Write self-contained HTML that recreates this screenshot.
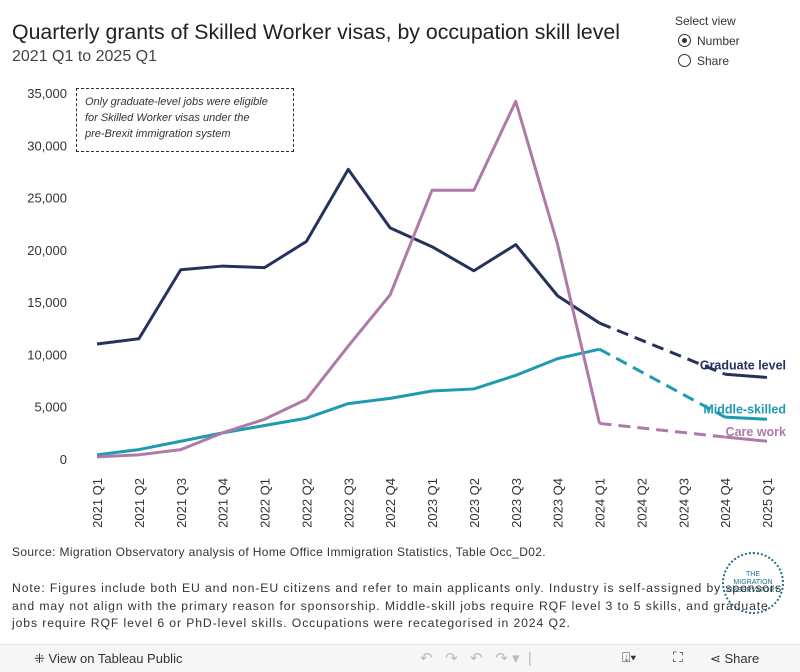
<!DOCTYPE html>
<html><head><meta charset="utf-8"><style>
body{margin:0;width:800px;height:671px;background:#fff;font-family:"Liberation Sans",sans-serif;overflow:hidden;position:relative;color:#222}
.t{position:absolute;white-space:nowrap}
</style></head><body>
<div style="position:absolute;left:722px;top:552px;width:62px;height:62px;border-radius:50%;border:2px dotted #1f6e8c;box-sizing:border-box;background:#fff;color:#1f6e8c;font-size:7px;text-align:center;line-height:8px;display:flex;align-items:center;justify-content:center">THE<br>MIGRATION<br>OBSERVATORY</div>
<div class="t" style="left:12px;top:20px;font-size:21.3px;color:#222">Quarterly grants of Skilled Worker visas, by occupation skill level</div>
<div class="t" style="left:12px;top:48px;font-size:16px;color:#444">2021 Q1 to 2025 Q1</div>
<div class="t" style="left:675px;top:14px;font-size:12px;color:#333">Select view</div>
<div class="t" style="left:678px;top:34px;font-size:12px;color:#333"><span style="display:inline-block;width:11px;height:11px;border:1px solid #333;border-radius:50%;vertical-align:-2px;margin-right:6px;position:relative"><span style="position:absolute;left:3px;top:3px;width:5px;height:5px;border-radius:50%;background:#333"></span></span>Number</div>
<div class="t" style="left:678px;top:54px;font-size:12px;color:#333"><span style="display:inline-block;width:11px;height:11px;border:1px solid #333;border-radius:50%;vertical-align:-2px;margin-right:6px"></span>Share</div>
<div class="t" style="left:76px;top:88px;width:200px;height:52px;border:1px dashed #333;padding:5px 8px;font-size:11px;font-style:italic;line-height:16px;color:#333">Only graduate-level jobs were eligible<br>for Skilled Worker visas under the<br>pre-Brexit immigration system</div>
<svg id="chart" width="800" height="671" style="position:absolute;left:0;top:0"></svg>
<div class="t" style="left:12px;top:545px;font-size:12px;letter-spacing:0.35px;color:#333">Source: Migration Observatory analysis of Home Office Immigration Statistics, Table Occ_D02.</div>
<div class="t" style="left:12px;top:580px;font-size:12.2px;letter-spacing:0.9px;line-height:17.5px;color:#333">Note: Figures include both EU and non-EU citizens and refer to main applicants only. Industry is self-assigned by sponsors<br>and may not align with the primary reason for sponsorship. Middle-skill jobs require RQF level 3 to 5 skills, and graduate<br>jobs require RQF level 6 or PhD-level skills. Occupations were recategorised in 2024 Q2.</div>
<div style="position:absolute;left:0;top:644px;width:800px;height:27px;background:#f6f6f6;border-top:1px solid #e4e4e4;font-size:13px;color:#333">
<span class="t" style="left:34px;top:6px">⁜ View on Tableau Public</span>
<span class="t" style="left:420px;top:4px;color:#bbb;font-size:15px">↶ &nbsp; ↷ &nbsp; ↶ &nbsp; ↷ ▾ &nbsp;|</span>
<span class="t" style="left:622px;top:4px;font-size:14px">⍗▾</span>
<span class="t" style="left:673px;top:4px;font-size:14px">⛶</span>
<span class="t" style="left:710px;top:6px">⋖ Share</span>
</div>
<script>
const categories=["2021 Q1","2021 Q2","2021 Q3","2021 Q4","2022 Q1","2022 Q2","2022 Q3","2022 Q4","2023 Q1","2023 Q2","2023 Q3","2023 Q4","2024 Q1","2024 Q2","2024 Q3","2024 Q4","2025 Q1"];
const graduate=[11000,11500,18100,18450,18300,20800,27700,22100,20300,18000,20500,15600,13000,null,null,8100,7800];
const middle=[400,900,1700,2500,3200,3900,5300,5800,6500,6700,8000,9600,10500,null,null,4000,3800];
const care=[200,400,900,2500,3800,5700,10800,15700,25700,25700,34200,20500,3400,null,null,2100,1700];
const yTicks=[0,5000,10000,15000,20000,25000,30000,35000];
const svg=document.getElementById('chart');const NS="http://www.w3.org/2000/svg";
const x=i=>97+i*(670/16);const y=v=>459-v*366/35000;
function el(t,a,txt){const e=document.createElementNS(NS,t);for(const k in a)e.setAttribute(k,a[k]);if(txt!=null)e.textContent=txt;svg.appendChild(e);return e;}
yTicks.forEach(v=>{const t=el('text',{x:67,y:y(v)+5,'text-anchor':'end','font-size':13,fill:'#333','font-family':'Liberation Sans'},v.toLocaleString('en-US'));

});
categories.forEach((c,i)=>{const t=el('text',{transform:`translate(${x(i)+5},${478}) rotate(-90)`,'text-anchor':'end','font-size':13,fill:'#333','font-family':'Liberation Sans'},c);

});
function series(d,col,name){
 let p='';for(let i=0;i<=12;i++)p+=(i?'L':'M')+x(i)+','+y(d[i]);
 const s=el('path',{d:p,fill:'none',stroke:col,'stroke-width':3,'stroke-linejoin':'round'});
 
 
 const ds=el('path',{d:`M${x(12)},${y(d[12])}L${x(15)},${y(d[15])}`,fill:'none',stroke:col,'stroke-width':3,'stroke-dasharray':'12,7'});
 
 
 const s2=el('path',{d:`M${x(15)},${y(d[15])}L${x(16)},${y(d[16])}`,fill:'none',stroke:col,'stroke-width':3});
 
 
}
series(graduate,'#26325e','graduate');series(middle,'#1e9bb0','middle-skilled');series(care,'#b07aa8','care-work');
[['Graduate level','#26325e',graduate,-8],['Middle-skilled','#1e9bb0',middle,-6],['Care work','#b07aa8',care,-5]].forEach(([n,c,d,o])=>{
 const t=el('text',{x:786,y:y(d[16])+o,'text-anchor':'end','font-size':12.5,'font-weight':'bold',fill:c,'font-family':'Liberation Sans'},n);
 
 });
</script>
</body></html>
